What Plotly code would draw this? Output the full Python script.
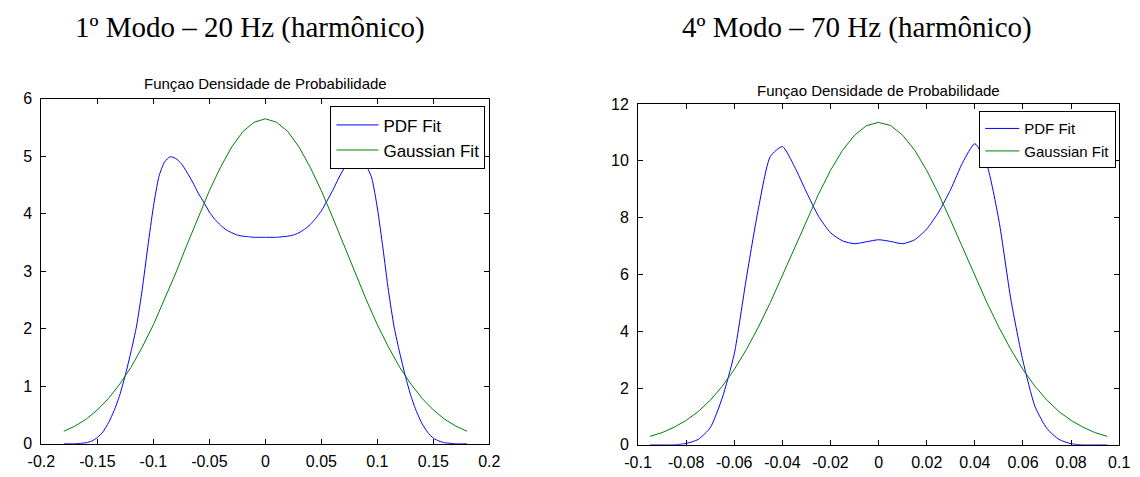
import plotly.graph_objects as go

# ---------------- data ----------------
# Left chart: 1º Modo – 20 Hz
x_pdf_1 = [-0.180, -0.175, -0.170, -0.165, -0.160, -0.155, -0.150, -0.145, -0.140, -0.135,
           -0.130, -0.125, -0.120, -0.115, -0.110, -0.105, -0.100, -0.095, -0.090, -0.085,
           -0.080, -0.075, -0.070, -0.065, -0.060, -0.055, -0.050, -0.045, -0.040, -0.035,
           -0.030, -0.025, -0.020, -0.015, -0.010, -0.005, 0.000, 0.005, 0.010, 0.015,
           0.020, 0.025, 0.030, 0.035, 0.040, 0.045, 0.050, 0.055, 0.060, 0.065,
           0.070, 0.075, 0.080, 0.085, 0.090, 0.095, 0.100, 0.105, 0.110, 0.115,
           0.120, 0.125, 0.130, 0.135, 0.140, 0.145, 0.150, 0.155, 0.160, 0.165,
           0.170, 0.175, 0.180]
y_pdf_1 = [0.00, 0.00, 0.00, 0.01, 0.02, 0.05, 0.11, 0.21, 0.37, 0.58,
           0.85, 1.20, 1.60, 2.05, 2.68, 3.42, 4.12, 4.65, 4.90, 4.99,
           4.96, 4.87, 4.72, 4.55, 4.36, 4.20, 4.03, 3.90, 3.80, 3.72,
           3.67, 3.63, 3.61, 3.60, 3.59, 3.59, 3.59, 3.59, 3.59, 3.60,
           3.61, 3.63, 3.67, 3.73, 3.81, 3.92, 4.05, 4.22, 4.40, 4.60,
           4.78, 4.91, 4.98, 4.97, 4.84, 4.62, 4.10, 3.40, 2.65, 2.03,
           1.58, 1.18, 0.83, 0.56, 0.35, 0.20, 0.10, 0.05, 0.02, 0.01,
           0.00, 0.00, 0.00]
x_gauss_1 = [-0.18, -0.17, -0.16, -0.15, -0.14, -0.13, -0.12, -0.11, -0.10, -0.09,
             -0.08, -0.07, -0.06, -0.05, -0.04, -0.03, -0.02, -0.01, 0.00, 0.01,
             0.02, 0.03, 0.04, 0.05, 0.06, 0.07, 0.08, 0.09, 0.10, 0.11,
             0.12, 0.13, 0.14, 0.15, 0.16, 0.17, 0.18]
y_gauss_1 = [0.22, 0.31, 0.43, 0.59, 0.79, 1.04, 1.33, 1.68, 2.07, 2.51,
             2.97, 3.46, 3.94, 4.40, 4.81, 5.16, 5.43, 5.59, 5.65, 5.59,
             5.43, 5.16, 4.81, 4.40, 3.94, 3.46, 2.97, 2.51, 2.07, 1.68,
             1.33, 1.04, 0.79, 0.59, 0.43, 0.31, 0.22]

# Right chart: 4º Modo – 70 Hz
x_2 = [-0.095, -0.090, -0.085, -0.080, -0.075, -0.070, -0.065, -0.060, -0.055, -0.050,
       -0.045, -0.040, -0.035, -0.030, -0.025, -0.020, -0.015, -0.010, -0.005, 0.000,
       0.005, 0.010, 0.015, 0.020, 0.025, 0.030, 0.035, 0.040, 0.045, 0.050,
       0.055, 0.060, 0.065, 0.070, 0.075, 0.080, 0.085, 0.090, 0.095]
y_pdf_2 = [0.00, 0.00, 0.00, 0.05, 0.19, 0.60, 1.65, 3.20, 5.85, 8.30,
           10.15, 10.50, 9.80, 8.90, 8.05, 7.47, 7.18, 7.08, 7.15, 7.22,
           7.16, 7.08, 7.22, 7.60, 8.20, 9.00, 9.95, 10.60, 9.85, 7.90,
           5.10, 2.95, 1.35, 0.57, 0.19, 0.04, 0.00, 0.00, 0.00]
y_gauss_2 = [0.30, 0.43, 0.62, 0.86, 1.17, 1.57, 2.06, 2.65, 3.35, 4.14,
             5.01, 5.95, 6.92, 7.89, 8.82, 9.66, 10.37, 10.90, 11.24, 11.35,
             11.24, 10.90, 10.37, 9.66, 8.82, 7.89, 6.92, 5.95, 5.01, 4.14,
             3.35, 2.65, 2.06, 1.57, 1.17, 0.86, 0.62, 0.43, 0.30]

xtick_vals_1 = [-0.2, -0.15, -0.1, -0.05, 0, 0.05, 0.1, 0.15, 0.2]
xtick_text_1 = ["-0.2", "-0.15", "-0.1", "-0.05", "0", "0.05", "0.1", "0.15", "0.2"]
ytick_vals_1 = [0, 1, 2, 3, 4, 5, 6]
xtick_vals_2 = [-0.1, -0.08, -0.06, -0.04, -0.02, 0, 0.02, 0.04, 0.06, 0.08, 0.1]
xtick_text_2 = ["-0.1", "-0.08", "-0.06", "-0.04", "-0.02", "0", "0.02", "0.04", "0.06", "0.08", "0.1"]
ytick_vals_2 = [0, 2, 4, 6, 8, 10, 12]

series_names = ["PDF Fit", "Gaussian Fit"]
main_titles = ["1º Modo – 20 Hz (harmônico)", "4º Modo – 70 Hz (harmônico)"]
sub_title = "Funçao Densidade de Probabilidade"

# ---------------- figure ----------------
W, H = 1140, 477
BLUE = "#0000ff"
GREEN = "#008000"
SANS = "Liberation Sans, Arial, sans-serif"
TICKFONT = dict(family=SANS, size=16, color="black")

fig = go.Figure()
fig.add_trace(go.Scatter(x=x_pdf_1, y=y_pdf_1, mode="lines", name=series_names[0],
                         line=dict(color=BLUE, width=1, shape="spline", smoothing=0.6),
                         xaxis="x", yaxis="y", legend="legend"))
fig.add_trace(go.Scatter(x=x_gauss_1, y=y_gauss_1, mode="lines", name=series_names[1],
                         line=dict(color=GREEN, width=1),
                         xaxis="x", yaxis="y", legend="legend"))
fig.add_trace(go.Scatter(x=x_2, y=y_pdf_2, mode="lines", name=series_names[0],
                         line=dict(color=BLUE, width=1, shape="spline", smoothing=0.6),
                         xaxis="x2", yaxis="y2", legend="legend2"))
fig.add_trace(go.Scatter(x=x_2, y=y_gauss_2, mode="lines", name=series_names[1],
                         line=dict(color=GREEN, width=1),
                         xaxis="x2", yaxis="y2", legend="legend2"))

def px_x(p):
    return p / W

def px_y(p):
    return 1 - p / H

axis_common = dict(showline=True, linecolor="black", linewidth=1, mirror="ticks",
                   ticks="inside", ticklen=5, tickcolor="black", showgrid=False,
                   zeroline=False, tickfont=TICKFONT)

legend_common = dict(xanchor="right", yanchor="top", bgcolor="white",
                     bordercolor="black", borderwidth=1, tracegroupgap=0)

fig.update_layout(
    width=W, height=H,
    margin=dict(l=0, r=0, t=0, b=0),
    paper_bgcolor="white", plot_bgcolor="white",
    xaxis=dict(domain=[px_x(28), px_x(486)], range=[-0.2, 0.2], anchor="y",
               tickvals=xtick_vals_1, ticktext=xtick_text_1, ticklabelstandoff=3,
               **axis_common),
    yaxis=dict(domain=[px_y(452), px_y(94)], range=[0, 6], anchor="x",
               tickvals=ytick_vals_1, ticklabelstandoff=5, **axis_common),
    xaxis2=dict(domain=[px_x(638), px_x(1130)], range=[-0.1, 0.1], anchor="y2",
                tickvals=xtick_vals_2, ticktext=xtick_text_2, ticklabelstandoff=3,
                **axis_common),
    yaxis2=dict(domain=[px_y(453), px_y(99.5)], range=[0, 12], anchor="x2",
                tickvals=ytick_vals_2, ticklabelstandoff=5, **axis_common),
    legend=dict(x=px_x(482), y=px_y(102), itemwidth=42,
                font=dict(family=SANS, size=17, color="black"), **legend_common),
    legend2=dict(x=px_x(1127), y=px_y(107), itemwidth=34,
                 font=dict(family=SANS, size=15, color="black"), **legend_common),
    showlegend=True,
)

annotations = [
    dict(text=main_titles[0], x=px_x(241), y=px_y(20), xref="paper", yref="paper",
         showarrow=False, xanchor="center", yanchor="middle",
         font=dict(family="Liberation Serif, Times New Roman, serif", size=29, color="black")),
    dict(text=main_titles[1], x=px_x(862), y=px_y(20), xref="paper", yref="paper",
         showarrow=False, xanchor="center", yanchor="middle",
         font=dict(family="Liberation Serif, Times New Roman, serif", size=29, color="black")),
    dict(text=sub_title, x=px_x(257), y=px_y(78), xref="paper", yref="paper",
         showarrow=False, xanchor="center", yanchor="middle",
         font=dict(family=SANS, size=15, color="black")),
    dict(text=sub_title, x=px_x(884), y=px_y(86), xref="paper", yref="paper",
         showarrow=False, xanchor="center", yanchor="middle",
         font=dict(family=SANS, size=15, color="black")),
]
fig.update_layout(annotations=annotations)

fig.write_html("out.html")
